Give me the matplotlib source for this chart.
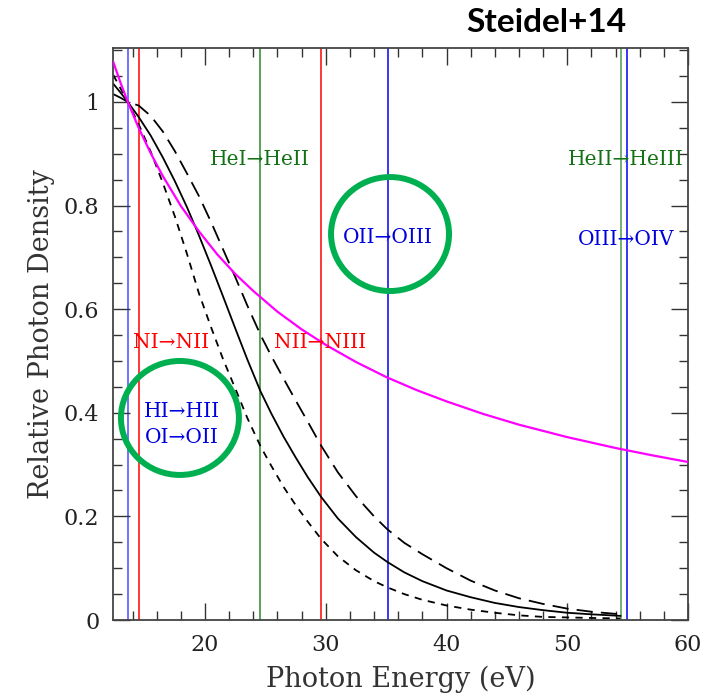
import matplotlib
matplotlib.use('Agg')
import matplotlib.pyplot as plt
from matplotlib.patches import Ellipse
from matplotlib.ticker import MultipleLocator

# photon energy grid (eV) and relative photon densities
energy_pl = [12.4, 13.0, 13.6, 14.5, 15.5, 16.5, 18.0, 19.5, 21.0, 22.5, 24.0, 26.0,
             28.0, 30.0, 32.5, 35.0, 37.5, 40.0, 43.0, 46.0, 50.0, 54.0, 57.0, 60.0]
dens_pl = [1.077, 1.037, 1.000, 0.950, 0.901, 0.857, 0.799, 0.750, 0.706, 0.668, 0.635, 0.595,
           0.561, 0.531, 0.498, 0.469, 0.444, 0.422, 0.398, 0.377, 0.353, 0.332, 0.318, 0.305]

energy_bb = [12.4, 13.0, 13.6, 14.5, 15.5, 16.5, 17.5, 18.5, 19.5, 20.5, 21.5, 22.5, 23.5,
             24.6, 25.5, 26.5, 27.5, 28.5, 29.6, 31.0, 32.5, 34.0, 35.1, 36.5, 38.0, 40.0,
             42.0, 44.0, 46.0, 48.0, 50.0, 52.0, 54.4]
dens_solid = [1.035, 1.018, 1.000, 0.971, 0.935, 0.893, 0.847, 0.797, 0.742, 0.684, 0.624,
              0.563, 0.503, 0.441, 0.398, 0.354, 0.314, 0.276, 0.238, 0.196, 0.160, 0.130,
              0.112, 0.092, 0.075, 0.057, 0.044, 0.033, 0.025, 0.019, 0.014, 0.011, 0.008]
dens_long = [1.015, 1.008, 1.000, 0.993, 0.973, 0.943, 0.905, 0.862, 0.818, 0.768, 0.715,
             0.662, 0.607, 0.550, 0.509, 0.466, 0.424, 0.383, 0.337, 0.285, 0.239, 0.200,
             0.175, 0.149, 0.127, 0.100, 0.076, 0.057, 0.042, 0.031, 0.022, 0.016, 0.011]
dens_short = [1.052, 1.026, 1.000, 0.957, 0.904, 0.844, 0.779, 0.707, 0.630, 0.565, 0.503,
              0.447, 0.390, 0.335, 0.297, 0.257, 0.222, 0.190, 0.157, 0.123, 0.096, 0.075,
              0.063, 0.050, 0.039, 0.028, 0.020, 0.014, 0.009, 0.006, 0.005, 0.004, 0.003]

# ionisation edges (eV)
edges = [13.6, 14.53, 24.59, 29.6, 35.12, 54.42, 54.94]
edge_colors = ['#4a4aff', '#ff0000', '#2a8a2a', '#ff0000', '#0000ff', '#4f9a4f', '#0000ff']

labels = ['HeI→HeII', 'HeII→HeIII', 'OII→OIII', 'OIII→OIV',
          'NI→NII', 'NII→NIII', 'HI→HII', 'OI→OII']
label_x = [24.55, 54.85, 35.15, 54.85, 17.18, 29.5, 18.1, 18.1]
label_y = [0.888, 0.888, 0.739, 0.734, 0.535, 0.535, 0.402, 0.353]
label_colors = ['#137213', '#137213', '#0000dd', '#0000dd',
                '#ff0000', '#ff0000', '#0000dd', '#0000dd']

serif = ['DejaVu Serif', 'DejaVu Sans']

fig = plt.figure(figsize=(7.08, 6.94), dpi=100)
ax = fig.add_axes([0.160, 0.1066, 0.8118, 0.8242])

for e, c in zip(edges, edge_colors):
    ax.axvline(e, color=c, lw=1.1, zorder=1)

ax.plot(energy_pl, dens_pl, color='#ff00ff', lw=1.6, zorder=3)
ax.plot(energy_bb, dens_solid, color='black', lw=1.3, zorder=2)
ax.plot(energy_bb, dens_long, color='black', lw=1.3, dashes=(9, 4.5), zorder=2)
ax.plot(energy_bb, dens_short, color='black', lw=1.3, dashes=(4, 3.5), zorder=2)

for t, x, y, c in zip(labels, label_x, label_y, label_colors):
    ax.text(x, y, t, color=c, fontsize=14.5, family=serif, ha='center', va='center', zorder=4)

# green highlight circles
for cx, cy in [(17.92, 0.390), (35.32, 0.745)]:
    ax.add_patch(Ellipse((cx, cy), 9.77, 0.220, fill=False, ec='#00b050', lw=4.3,
                         zorder=5, clip_on=False))

ax.set_xlim(12.4, 60)
ax.set_ylim(0, 1.104)
ax.xaxis.set_minor_locator(MultipleLocator(2))
ax.yaxis.set_minor_locator(MultipleLocator(0.05))
ax.tick_params(which='both', direction='in', top=True, right=True, color='#333333', width=1.0)
ax.tick_params(which='major', length=12, labelsize=16, pad=10, labelcolor='#222222')
ax.tick_params(which='minor', length=6.5)
ax.set_xticks([20, 30, 40, 50, 60])
ax.set_xticklabels(['20', '30', '40', '50', '60'], family=serif)
ax.set_yticks([0, 0.2, 0.4, 0.6, 0.8, 1.0])
ax.set_yticklabels(['0', '0.2', '0.4', '0.6', '0.8', '1'], family=serif)
for s in ax.spines.values():
    s.set_color('#444444')
    s.set_linewidth(1.3)

ax.set_xlabel('Photon Energy (eV)', fontsize=19.5, family=serif, color='#333333', labelpad=7)
ax.set_ylabel('Relative Photon Density', fontsize=19.5, family=serif, color='#333333', labelpad=6)

fig.text(0.771, 0.968, 'Steidel+14', fontsize=24, fontweight='bold', family='Lato',
         ha='center', va='center')

fig.savefig('out.png', dpi=100)
